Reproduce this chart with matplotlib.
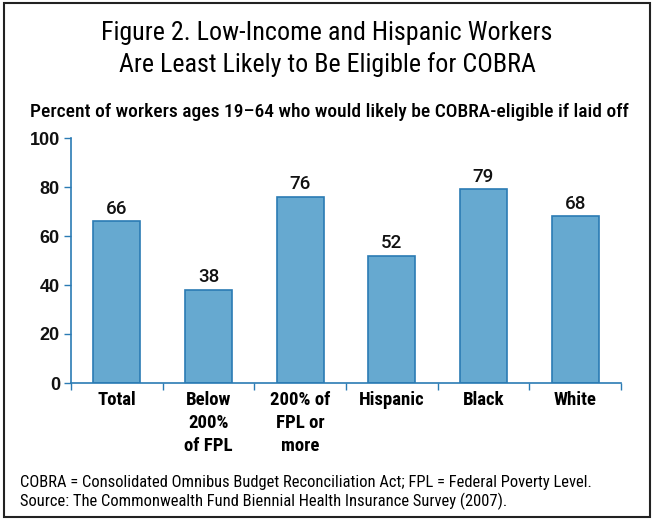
import matplotlib
matplotlib.use("Agg")
import matplotlib.pyplot as plt
from matplotlib import font_manager
from matplotlib.font_manager import FontProperties
from matplotlib.patches import Rectangle

categories = ["Total", "Below\n200%\nof FPL", "200% of\nFPL or\nmore", "Hispanic", "Black", "White"]
values = [66, 38, 76, 52, 79, 68]
yticks = [0, 20, 40, 60, 80, 100]

names = {f.name for f in font_manager.fontManager.ttflist}
cond = "DejaVu Sans"
for cand in ["Roboto Condensed", "Archivo Narrow", "PT Sans Narrow", "Fira Sans Condensed", "Liberation Sans Narrow"]:
    if cand in names:
        cond = cand
        break
num = "Roboto" if "Roboto" in names else "DejaVu Sans"
arial = "Liberation Sans" if "Liberation Sans" in names else "DejaVu Sans"
plt.rcParams['font.family'] = [cond, 'DejaVu Sans']

fig = plt.figure(figsize=(6.54, 5.2), dpi=100)
fig.patches.append(Rectangle((0.006, 0.006), 0.988, 0.988, transform=fig.transFigure,
                             fill=False, edgecolor='#222222', linewidth=1.5))

ax = fig.add_axes([71/654, 1-383/520, (621-71)/654, (383-138)/520])
x = list(range(len(values)))
ax.bar(x, values, width=0.51, color='#66a9d0', edgecolor='#2b7bb4', linewidth=1.2, zorder=2)
for xi, v in zip(x, values):
    ax.text(xi, v + 1.5, str(v), ha='center', va='bottom', fontsize=13.5, color='#111111',
            family=[num, 'DejaVu Sans'], fontweight='medium')

ax.set_xlim(-0.5, len(values) - 0.5)
ax.set_ylim(0, 100)
ax.set_yticks(yticks)
ax.set_yticklabels([str(t) for t in yticks])
yfp = FontProperties(family=arial, weight='bold', size=13)
for lbl in ax.get_yticklabels():
    lbl.set_fontproperties(yfp)
    lbl.set_color('#111111')
ax.set_xticks([i - 0.5 for i in range(len(values) + 1)])
ax.set_xticklabels([])
ax.set_xticks(x, minor=True)
ax.set_xticklabels(categories, minor=True, fontsize=13.5, fontweight='bold', linespacing=1.35, va='top')
ax.tick_params(axis='x', which='minor', length=0, pad=6)
ax.tick_params(axis='x', which='major', length=5, color='#2b7bb4', width=1, direction='out')
ax.tick_params(axis='y', length=5, color='#2b7bb4', width=1, direction='out', pad=3)
for s in ['top', 'right']:
    ax.spines[s].set_visible(False)
for s in ['left', 'bottom']:
    ax.spines[s].set_color('#2b7bb4')
    ax.spines[s].set_linewidth(1.2)

fig.text(0.5, 1-33/520, "Figure 2. Low-Income and Hispanic Workers", ha='center', va='center', fontsize=18.7)
fig.text(0.5, 1-65/520, "Are Least Likely to Be Eligible for COBRA", ha='center', va='center', fontsize=18.7)
fig.text(30/654, 1-112/520, "Percent of workers ages 19\u201364 who would likely be COBRA-eligible if laid off",
         ha='left', va='center', fontsize=14, fontweight='medium')
fig.text(20/654, 1-482/520, "COBRA = Consolidated Omnibus Budget Reconciliation Act; FPL = Federal Poverty Level.",
         ha='left', va='center', fontsize=11.9)
fig.text(20/654, 1-501/520, "Source: The Commonwealth Fund Biennial Health Insurance Survey (2007).",
         ha='left', va='center', fontsize=11.9)

fig.savefig("out.png", dpi=100)
